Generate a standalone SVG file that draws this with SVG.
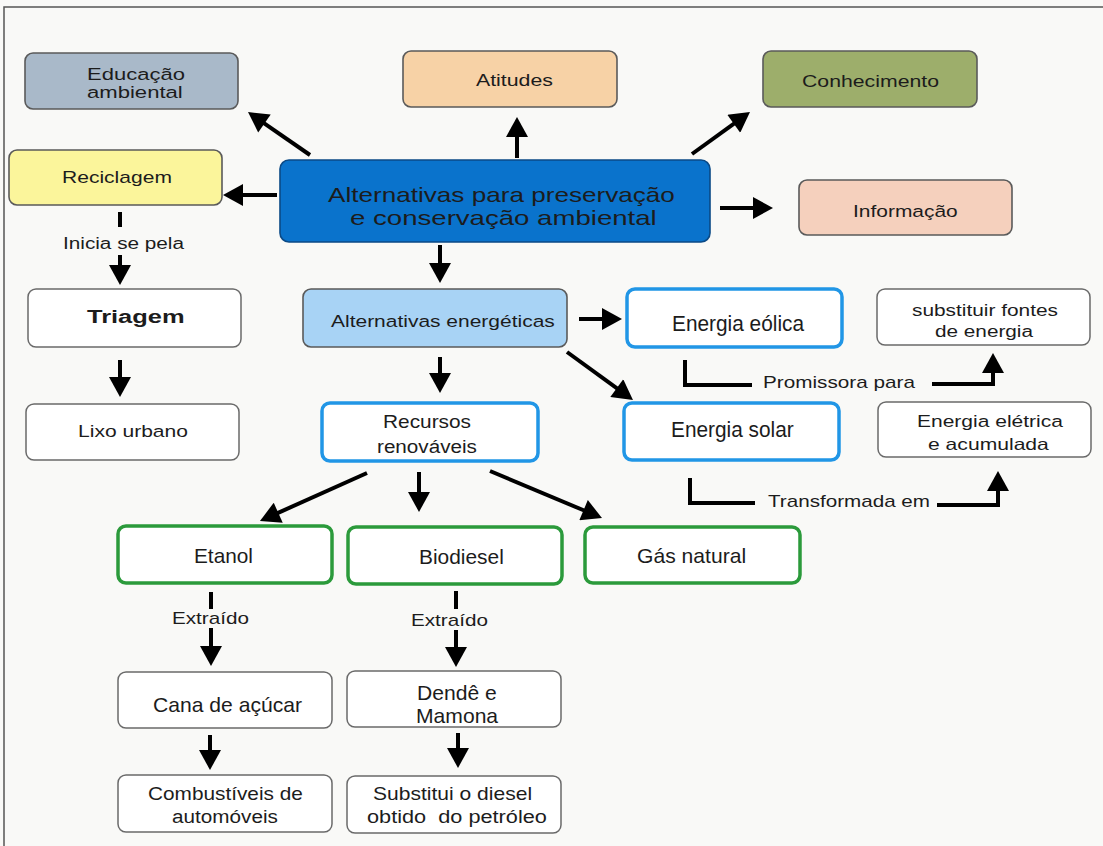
<svg xmlns="http://www.w3.org/2000/svg" width="1103" height="846" viewBox="0 0 1103 846">
<style>
text{font-family:"Liberation Sans",Arial,sans-serif;fill:#1c1c1c}
.box{stroke:#5a5a5a;stroke-width:1.6}
.plain{fill:#ffffff;stroke:#6a6a6a;stroke-width:1.5}
.blue{fill:#ffffff;stroke:#2196e6;stroke-width:3.5}
.green{fill:#ffffff;stroke:#2b9a3b;stroke-width:3.5}
.con{stroke:#000;stroke-width:4;fill:none}
</style>
<defs>
<marker id="ah" markerUnits="userSpaceOnUse" markerWidth="22" markerHeight="22" viewBox="0 0 20 22" refX="2" refY="11" orient="auto">
<path d="M0,0 L20,11 L0,22 z" fill="#000"/>
</marker>
</defs>
<rect x="0" y="0" width="1103" height="846" fill="#f9f9f7"/>
<path d="M4,846 V7 H1103" fill="none" stroke="#555" stroke-width="1.5"/>

<g id="connectors">
<line class="con" x1="310" y1="155" x2="262.8" y2="122.3" marker-end="url(#ah)"/>
<line class="con" x1="277" y1="195" x2="241" y2="195" marker-end="url(#ah)"/>
<line class="con" x1="517" y1="158" x2="517" y2="135" marker-end="url(#ah)"/>
<line class="con" x1="692" y1="154" x2="735.4" y2="122.6" marker-end="url(#ah)"/>
<line class="con" x1="720" y1="208" x2="755" y2="208" marker-end="url(#ah)"/>
<line class="con" x1="440" y1="245" x2="440" y2="265" marker-end="url(#ah)"/>
<line class="con" x1="120" y1="212" x2="120" y2="227"/>
<line class="con" x1="120" y1="255" x2="120" y2="267" marker-end="url(#ah)"/>
<line class="con" x1="120" y1="360" x2="120" y2="379" marker-end="url(#ah)"/>
<line class="con" x1="579" y1="319" x2="604" y2="319" marker-end="url(#ah)"/>
<line class="con" x1="567" y1="352" x2="618.4" y2="389.4" marker-end="url(#ah)"/>
<line class="con" x1="440" y1="357" x2="440" y2="375" marker-end="url(#ah)"/>
<line class="con" x1="367" y1="473" x2="276.4" y2="513.6" marker-end="url(#ah)"/>
<line class="con" x1="419" y1="472" x2="419" y2="494" marker-end="url(#ah)"/>
<line class="con" x1="490" y1="471" x2="585.4" y2="511" marker-end="url(#ah)"/>
<line class="con" x1="211" y1="592" x2="211" y2="609"/>
<line class="con" x1="211" y1="628" x2="211" y2="648" marker-end="url(#ah)"/>
<line class="con" x1="456" y1="591" x2="456" y2="609"/>
<line class="con" x1="456" y1="630" x2="456" y2="649" marker-end="url(#ah)"/>
<line class="con" x1="210" y1="735" x2="210" y2="752" marker-end="url(#ah)"/>
<line class="con" x1="458" y1="733" x2="458" y2="750" marker-end="url(#ah)"/>
<polyline class="con" points="685,360 685,385 752,385"/>
<polyline class="con" points="932,384 993,384 993,371" marker-end="url(#ah)"/>
<polyline class="con" points="690,478 690,503 755,503"/>
<polyline class="con" points="937,505 998,505 998,489" marker-end="url(#ah)"/>
<text transform="translate(63,249) scale(1.296,1)" style="font-size:16px">Inicia se pela</text>
<text transform="translate(763,388) scale(1.295,1)" style="font-size:16px">Promissora para</text>
<text transform="translate(768,507) scale(1.29,1)" style="font-size:16px">Transformada em</text>
<text transform="translate(172,624) scale(1.292,1)" style="font-size:16px">Extraído</text>
<text transform="translate(411,626) scale(1.292,1)" style="font-size:16px">Extraído</text>
</g>

<g id="central">
<rect x="280" y="160" width="430" height="82" rx="9" fill="#0a73cc" stroke="#0b4a86" stroke-width="1.6"/>
<text transform="translate(328,202) scale(1.274,1)" style="font-size:20.5px">Alternativas para preservação</text>
<text transform="translate(350,225) scale(1.347,1)" style="font-size:20.5px">e conservação ambiental</text>
</g>
<g id="educacao">
<rect class="box" x="25" y="53" width="213" height="56" rx="8" fill="#a9b9c9"/>
<text transform="translate(87,80) scale(1.296,1)" style="font-size:17px">Educação</text>
<text transform="translate(87,98) scale(1.3,1)" style="font-size:17px">ambiental</text>
</g>
<g id="reciclagem">
<rect class="box" x="9" y="150" width="213" height="55" rx="8" fill="#fbf59b"/>
<text transform="translate(62,183) scale(1.316,1)" style="font-size:16px">Reciclagem</text>
</g>
<g id="atitudes">
<rect class="box" x="403" y="51" width="214" height="56" rx="8" fill="#f7d2a6"/>
<text transform="translate(476,86) scale(1.332,1)" style="font-size:16px">Atitudes</text>
</g>
<g id="conhecimento">
<rect class="box" x="763" y="51" width="214" height="56" rx="8" fill="#9dae6b"/>
<text transform="translate(802,87) scale(1.288,1)" style="font-size:16.5px">Conhecimento</text>
</g>
<g id="informacao">
<rect class="box" x="799" y="180" width="213" height="55" rx="8" fill="#f5d0bd"/>
<text transform="translate(853,217) scale(1.27,1)" style="font-size:16.5px">Informação</text>
</g>
<g id="triagem">
<rect class="plain" x="28" y="289" width="213" height="58" rx="8"/>
<text transform="translate(87,323) scale(1.376,1)" style="font-size:18.5px;font-weight:bold">Triagem</text>
</g>
<g id="lixo">
<rect class="plain" x="26" y="404" width="213" height="56" rx="8"/>
<text transform="translate(78,437) scale(1.276,1)" style="font-size:16.5px">Lixo urbano</text>
</g>
<g id="alt-energeticas">
<rect class="box" x="303" y="289" width="264" height="58" rx="8" fill="#a8d3f5"/>
<text transform="translate(331,327) scale(1.272,1)" style="font-size:16.5px">Alternativas energéticas</text>
</g>
<g id="eolica">
<rect class="blue" x="627" y="289" width="215" height="58" rx="8"/>
<text transform="translate(672,331) scale(0.97,1)" style="font-size:21.5px">Energia eólica</text>
</g>
<g id="solar">
<rect class="blue" x="624" y="403" width="215" height="57" rx="8"/>
<text transform="translate(671,437) scale(0.97,1)" style="font-size:21.5px">Energia solar</text>
</g>
<g id="substituir">
<rect class="plain" x="877" y="289" width="213" height="56" rx="8"/>
<text transform="translate(912,316) scale(1.303,1)" style="font-size:16px">substituir fontes</text>
<text transform="translate(935,337) scale(1.296,1)" style="font-size:16px">de energia</text>
</g>
<g id="eletrica">
<rect class="plain" x="878" y="402" width="213" height="55" rx="8"/>
<text transform="translate(917,427) scale(1.274,1)" style="font-size:16.5px">Energia elétrica</text>
<text transform="translate(928,450) scale(1.28,1)" style="font-size:16.5px">e acumulada</text>
</g>
<g id="recursos">
<rect class="blue" x="322" y="403" width="216" height="58" rx="8"/>
<text transform="translate(383,428) scale(1.097,1)" style="font-size:19px">Recursos</text>
<text transform="translate(377,453) scale(1.088,1)" style="font-size:19px">renováveis</text>
</g>
<g id="etanol">
<rect class="green" x="118" y="526" width="214" height="57" rx="8"/>
<text transform="translate(194,563) scale(1.015,1)" style="font-size:20.5px">Etanol</text>
</g>
<g id="biodiesel">
<rect class="green" x="348" y="527" width="214" height="57" rx="8"/>
<text transform="translate(419,564) scale(1.02,1)" style="font-size:20.5px">Biodiesel</text>
</g>
<g id="gas">
<rect class="green" x="585" y="527" width="215" height="56" rx="8"/>
<text transform="translate(637,563) scale(1.03,1)" style="font-size:20.5px">Gás natural</text>
</g>
<g id="cana">
<rect class="plain" x="118" y="672" width="214" height="56" rx="8"/>
<text transform="translate(153,712) scale(1.03,1)" style="font-size:20.5px">Cana de açúcar</text>
</g>
<g id="dende">
<rect class="plain" x="347" y="671" width="214" height="56" rx="8"/>
<text transform="translate(417,700) scale(1.03,1)" style="font-size:20.5px">Dendê e</text>
<text transform="translate(416,723) scale(1.03,1)" style="font-size:20.5px">Mamona</text>
</g>
<g id="combustiveis">
<rect class="plain" x="118" y="775" width="214" height="57" rx="8"/>
<text transform="translate(148,800) scale(1.095,1)" style="font-size:19px">Combustíveis de</text>
<text transform="translate(172,823) scale(1.09,1)" style="font-size:19px">automóveis</text>
</g>
<g id="substitui">
<rect class="plain" x="347" y="776" width="214" height="57" rx="8"/>
<text transform="translate(373,800) scale(1.169,1)" style="font-size:18px">Substitui o diesel</text>
<text transform="translate(367,823) scale(1.207,1)" style="font-size:18px" xml:space="preserve">obtido  do petróleo</text>
</g>
</svg>
